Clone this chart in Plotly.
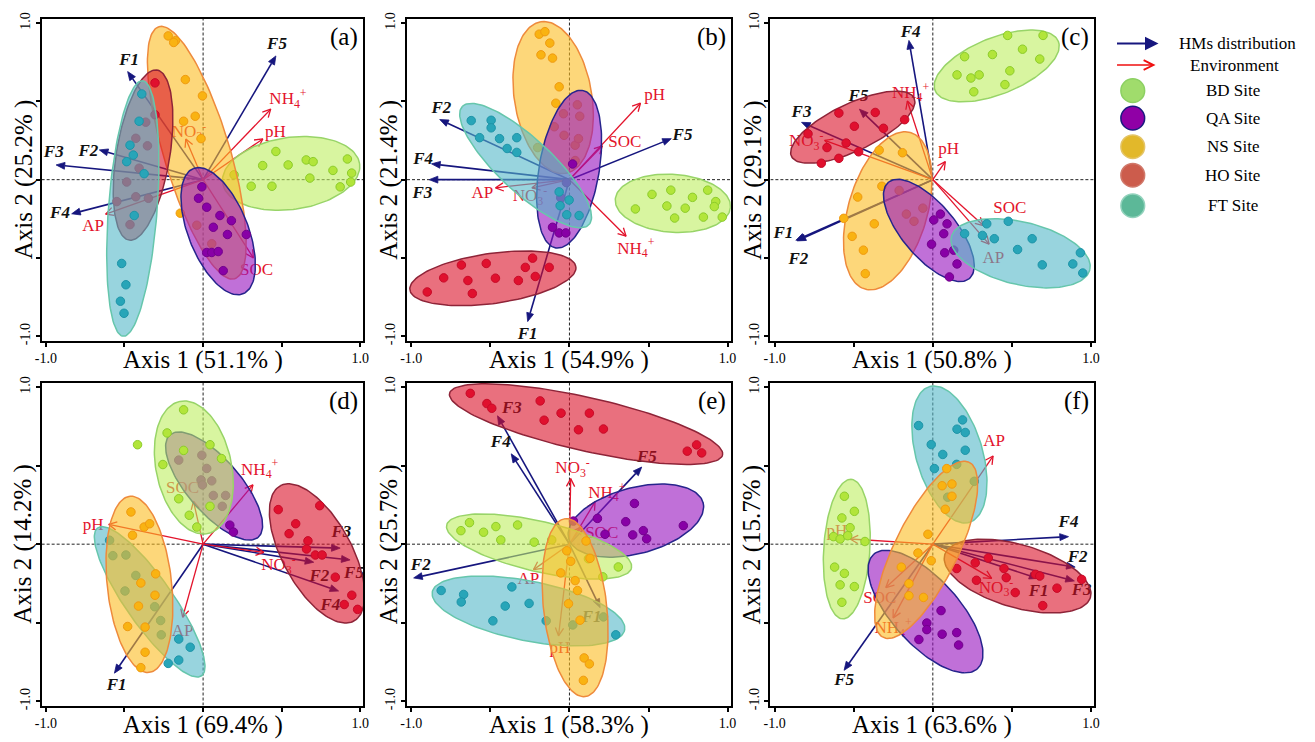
import numpy as np
import plotly.graph_objects as go

W, H = 1315, 742
SERIF = "Times New Roman, Liberation Serif, Tinos, DejaVu Serif, serif"

# ---------------- generic labels ----------------
GROUPS = ["BD", "QA", "NS", "HO", "FT"]
GROUP_LABELS = ["BD Site", "QA Site", "NS Site", "HO Site", "FT Site"]
HM_NAMES = ["F1", "F2", "F3", "F4", "F5"]
ENV_NAMES = ["pH", "SOC", "NH4+", "NO3-", "AP"]
ENV_TEXT = {"pH": "pH", "SOC": "SOC", "NH4+": "NH<sub>4</sub><sup>+</sup>",
            "NO3-": "NO<sub>3</sub><sup>-</sup>", "AP": "AP"}
PANEL_TAGS = ["(a)", "(b)", "(c)", "(d)", "(e)", "(f)"]
AXIS1_PCT = ["51.1", "54.9", "50.8", "69.4", "58.3", "63.6"]
AXIS2_PCT = ["25.2", "21.4", "29.1", "14.2", "25.7", "15.7"]
TICK_VALS = [-1.0, -0.5, 0.0, 0.5, 1.0]
TICK_TEXT = ["-1.0", "", "", "", "1.0"]

# ---------------- panel (a) ----------------
a_hm_x = [-0.48, -0.66, -0.935, -0.836, 0.463]
a_hm_y = [0.69, 0.19, 0.094, -0.218, 0.79]
a_hm_lx = [-0.47, -0.73, -0.95, -0.91, 0.47]
a_hm_ly = [0.76, 0.18, 0.17, -0.22, 0.86]
a_env_x = [0.38, 0.32, 0.43, -0.11, -0.62]
a_env_y = [0.26, -0.50, 0.45, 0.26, -0.22]
a_env_lx = [0.46, 0.34, 0.54, -0.09, -0.70]
a_env_ly = [0.30, -0.58, 0.51, 0.30, -0.30]
a_ell = {"BD": (0.56, 0.04, 0.44, 0.23, 8), "NS": (-0.04, 0.172, 0.84, 0.21, 106.7),
         "HO": (-0.382, 0.157, 0.55, 0.17, 80.7), "FT": (-0.447, -0.184, 0.818, 0.155, 85.7),
         "QA": (0.096, -0.329, 0.43, 0.19, 111.5)}
a_order = ["BD", "NS", "HO", "FT", "QA"]
a_bd_x = [0.463, 0.379, 0.541, 0.656, 0.700, 0.918, 0.826, 0.945, 0.679, 0.939, 0.306, 0.438, 0.872, 0.197]
a_bd_y = [0.180, 0.090, 0.094, 0.126, 0.115, 0.132, 0.059, 0.042, 0.010, -0.015, -0.042, -0.042, -0.046, 0.031]
a_ns_x = [-0.222, -0.176, -0.187, -0.113, -0.004, -0.050, -0.124, -0.013, -0.145, -0.040, 0.055]
a_ns_y = [0.918, 0.887, 0.876, 0.639, 0.535, 0.405, 0.373, 0.262, -0.214, -0.291, -0.409]
a_ho_x = [-0.306, -0.365, -0.306, -0.428, -0.354, -0.407, -0.486, -0.428, -0.348, -0.549, -0.465]
a_ho_y = [0.618, 0.367, 0.415, 0.264, 0.216, 0.073, -0.015, -0.109, -0.119, -0.140, -0.287]
a_ft_x = [-0.390, -0.407, -0.465, -0.444, -0.486, -0.375, -0.438, -0.518, -0.491, -0.526, -0.503]
a_ft_y = [0.547, 0.373, 0.220, 0.157, 0.115, 0.038, -0.229, -0.535, -0.671, -0.776, -0.853]
a_qa_x = [-0.008, -0.029, 0.023, 0.107, 0.180, 0.065, 0.155, 0.275, 0.023, 0.055, 0.096, 0.128]
a_qa_y = [-0.046, -0.119, -0.176, -0.229, -0.262, -0.304, -0.350, -0.350, -0.465, -0.465, -0.459, -0.581]

# ---------------- panel (b) ----------------
b_hm_x = [-0.264, -0.820, -0.887, -0.872, 0.644]
b_hm_y = [-0.906, 0.384, 0.0, 0.101, 0.262]
b_hm_lx = [-0.264, -0.81, -0.93, -0.925, 0.715]
b_hm_ly = [-0.99, 0.45, -0.09, 0.13, 0.283]
b_env_x = [0.449, 0.208, 0.358, -0.237, -0.467]
b_env_y = [0.488, 0.216, -0.361, -0.052, -0.052]
b_env_lx = [0.539, 0.35, 0.42, -0.25, -0.55]
b_env_ly = [0.535, 0.237, -0.445, -0.11, -0.09]
b_ell = {"NS": (-0.103, 0.524, 0.49, 0.245, 99.2), "HO": (-0.484, -0.63, 0.53, 0.16, 8),
         "QA": (-0.002, 0.067, 0.51, 0.19, 80.5), "FT": (-0.277, 0.090, 0.55, 0.17, 136.7),
         "BD": (0.654, -0.151, 0.365, 0.185, -4)}
b_order = ["NS", "QA", "FT", "HO", "BD"]
b_ns_x = [-0.191, -0.155, -0.124, -0.180, -0.107, -0.065, -0.086, -0.038, -0.096, -0.034, 0.036, 0.050, 0.065, 0.057, 0.036, -0.201]
b_ns_y = [0.929, 0.945, 0.872, 0.797, 0.776, 0.593, 0.488, 0.421, 0.338, 0.283, 0.220, 0.478, 0.405, 0.262, 0.122, 0.205]
b_ho_x = [-0.899, -0.795, -0.683, -0.642, -0.614, -0.526, -0.468, -0.323, -0.279, -0.233, -0.216, -0.128]
b_ho_y = [-0.717, -0.627, -0.545, -0.644, -0.727, -0.535, -0.629, -0.644, -0.560, -0.501, -0.618, -0.560]
b_qa_x = [-0.019, -0.055, -0.107, -0.065, -0.023, 0.020]
b_qa_y = [-0.019, -0.115, -0.304, -0.340, -0.340, 0.100]
b_ft_x = [-0.621, -0.495, -0.495, -0.568, -0.442, -0.333, -0.394, -0.333, -0.065, -0.002, -0.059, -0.017, 0.061]
b_ft_y = [0.377, 0.379, 0.331, 0.268, 0.262, 0.268, 0.199, 0.174, -0.078, -0.130, -0.166, -0.224, -0.229]
b_bd_x = [0.522, 0.641, 0.778, 0.874, 0.925, 0.916, 0.417, 0.616, 0.732, 0.665, 0.847, 0.966]
b_bd_y = [-0.094, -0.067, -0.113, -0.067, -0.140, -0.172, -0.187, -0.168, -0.182, -0.245, -0.239, -0.239]

# ---------------- panel (c) ----------------
c_hm_x = [-0.866, -0.858, -0.830, -0.151, -0.464]
c_hm_y = [-0.387, -0.391, 0.366, 0.889, 0.450]
c_hm_lx = [-0.945, -0.85, -0.83, -0.14, -0.47]
c_hm_ly = [-0.345, -0.51, 0.43, 0.94, 0.53]
c_env_x = [0.079, 0.320, -0.161, -0.684, 0.356]
c_env_y = [0.115, -0.293, 0.502, 0.251, -0.412]
c_env_lx = [0.10, 0.487, -0.14, -0.80, 0.383]
c_env_ly = [0.19, -0.188, 0.55, 0.24, -0.502]
c_ell = {"BD": (0.404, 0.726, 0.42, 0.18, 22), "HO": (-0.506, 0.335, 0.43, 0.15, 25.7),
         "NS": (-0.285, -0.199, 0.52, 0.25, 74), "QA": (-0.025, -0.324, 0.40, 0.17, 129.7),
         "FT": (0.555, -0.47, 0.45, 0.20, -13.5)}
c_order = ["BD", "HO", "NS", "QA", "FT"]
c_bd_x = [0.473, 0.697, 0.201, 0.377, 0.567, 0.676, 0.153, 0.241, 0.293, 0.487, 0.456, 0.259]
c_bd_y = [0.921, 0.921, 0.785, 0.799, 0.833, 0.770, 0.669, 0.649, 0.669, 0.695, 0.607, 0.561]
c_ho_x = [-0.594, -0.364, -0.178, -0.496, -0.312, -0.789, -0.669, -0.548, -0.469, -0.594, -0.705]
c_ho_y = [0.425, 0.429, 0.383, 0.341, 0.328, 0.293, 0.205, 0.234, 0.178, 0.136, 0.105]
c_ns_x = [-0.339, -0.192, -0.322, -0.213, -0.475, -0.563, -0.370, -0.119, -0.167, -0.063, -0.510, -0.439, -0.427]
c_ns_y = [0.188, 0.172, -0.042, -0.069, -0.111, -0.247, -0.282, -0.266, -0.220, -0.182, -0.362, -0.450, -0.600]
c_qa_x = [0.048, 0.006, 0.090, 0.069, -0.008, 0.075, 0.132, 0.153, 0.105]
c_qa_y = [-0.220, -0.257, -0.282, -0.345, -0.412, -0.467, -0.450, -0.538, -0.621]
c_ft_x = [0.341, 0.477, 0.201, 0.314, 0.389, 0.628, 0.536, 0.933, 0.692, 0.885, 0.948]
c_ft_y = [-0.282, -0.266, -0.345, -0.356, -0.377, -0.377, -0.446, -0.467, -0.544, -0.538, -0.596]

# ---------------- panel (d) ----------------
d_hm_x = [-0.564, 0.704, 0.872, 0.862, 0.935]
d_hm_y = [-0.821, -0.115, -0.025, -0.298, -0.100]
d_hm_lx = [-0.55, 0.74, 0.88, 0.81, 0.96]
d_hm_ly = [-0.90, -0.21, 0.07, -0.39, -0.19]
d_env_x = [-0.600, -0.061, 0.317, 0.386, -0.130]
d_env_y = [0.126, 0.273, 0.377, -0.052, -0.465]
d_env_lx = [-0.70, -0.13, 0.36, 0.48, -0.13]
d_env_ly = [0.115, 0.35, 0.47, -0.14, -0.56]
d_ell = {"BD": (-0.059, 0.488, 0.43, 0.24, 101.9), "QA": (0.07, 0.37, 0.43, 0.17, 130.7),
         "HO": (0.725, -0.059, 0.49, 0.22, 118.5), "NS": (-0.405, -0.256, 0.564, 0.205, 96.2),
         "FT": (-0.340, -0.367, 0.575, 0.15, 125)}
d_order = ["FT", "NS", "QA", "BD", "HO"]
d_bd_x = [-0.124, -0.417, -0.229, -0.256, -0.155, -0.088, -0.040, 0.044, 0.117, 0.044, -0.124]
d_bd_y = [0.855, 0.633, 0.708, 0.507, 0.289, 0.184, 0.109, 0.633, 0.545, 0.241, 0.597]
d_qa_x = [-0.155, -0.008, 0.023, -0.013, 0.055, -0.004, 0.065, 0.143, 0.122, 0.170, 0.193]
d_qa_y = [0.535, 0.566, 0.482, 0.409, 0.403, 0.377, 0.310, 0.310, 0.241, 0.121, 0.077]
d_ho_x = [0.478, 0.742, 0.589, 0.547, 0.667, 0.658, 0.714, 0.757, 0.841, 0.946, 0.898, 0.983]
d_ho_y = [0.220, 0.245, 0.130, 0.067, 0.021, -0.031, -0.069, -0.069, -0.210, -0.325, -0.384, -0.415]
d_ns_x = [-0.459, -0.375, -0.340, -0.449, -0.396, -0.302, -0.306, -0.411, -0.480, -0.369, -0.369, -0.396]
d_ns_y = [0.205, 0.109, 0.130, 0.057, -0.247, -0.189, -0.325, -0.394, -0.524, -0.528, -0.688, -0.786]
d_ft_x = [-0.595, -0.574, -0.491, -0.428, -0.497, -0.308, -0.270, -0.266, -0.155, -0.082, -0.155, -0.222]
d_ft_y = [0.025, -0.073, -0.069, -0.199, -0.298, -0.398, -0.486, -0.577, -0.604, -0.656, -0.738, -0.759]

# ---------------- panel (e) ----------------
e_hm_x = [0.194, -0.985, -0.455, -0.368, 0.457]
e_hm_y = [-0.404, -0.215, 0.817, 0.575, 0.491]
e_hm_lx = [0.14, -0.94, -0.364, -0.434, 0.49]
e_hm_ly = [-0.47, -0.135, 0.863, 0.644, 0.55]
e_env_x = [-0.069, 0.078, 0.162, 0.008, -0.227]
e_env_y = [-0.583, 0.112, 0.269, 0.417, -0.162]
e_env_lx = [-0.06, 0.204, 0.236, 0.02, -0.26]
e_env_ly = [-0.667, 0.069, 0.322, 0.48, -0.225]
e_ell = {"HO": (0.105, 0.764, 0.885, 0.17, -12.8), "QA": (0.42, 0.15, 0.44, 0.21, 15),
         "BD": (-0.192, -0.015, 0.60, 0.16, -13.2), "FT": (-0.259, -0.425, 0.62, 0.19, -11.3),
         "NS": (0.036, -0.404, 0.57, 0.20, 96.3)}
e_order = ["HO", "QA", "BD", "FT", "NS"]
e_ho_x = [-0.627, -0.522, -0.491, -0.185, -0.160, -0.053, 0.126, 0.057, 0.215, 0.745, 0.804, 0.836]
e_ho_y = [0.960, 0.895, 0.865, 0.912, 0.789, 0.834, 0.834, 0.728, 0.733, 0.592, 0.632, 0.581]
e_qa_x = [0.411, 0.177, 0.356, 0.720, 0.225, 0.400, 0.467, 0.488, 0.025]
e_qa_y = [0.259, 0.164, 0.143, 0.118, 0.063, 0.059, 0.086, 0.034, 0.147]
e_bd_x = [-0.686, -0.632, -0.543, -0.465, -0.328, -0.434, -0.223, -0.112, 0.120, 0.211, 0.309]
e_bd_y = [0.086, 0.137, 0.076, 0.112, 0.122, 0.027, 0.013, 0.027, -0.093, -0.208, -0.145]
e_ft_x = [-0.811, -0.669, -0.684, -0.364, -0.406, -0.255, -0.484, -0.147, 0.021, 0.215, 0.293]
e_ft_y = [-0.295, -0.320, -0.368, -0.272, -0.394, -0.377, -0.488, -0.488, -0.514, -0.463, -0.577]
e_ns_x = [-0.017, 0.008, -0.055, 0.036, 0.051, -0.006, 0.067, 0.093, 0.126, 0.088, 0.105, 0.130]
e_ns_y = [-0.042, -0.109, -0.183, -0.232, -0.295, -0.379, -0.484, -0.724, -0.762, -0.867, 0.020, -0.090]

# ---------------- panel (f) ----------------
f_hm_x = [0.665, 0.900, 0.895, 0.858, -0.561]
f_hm_y = [-0.218, -0.146, -0.234, 0.048, -0.803]
f_hm_lx = [0.669, 0.916, 0.941, 0.858, -0.561]
f_hm_ly = [-0.301, -0.084, -0.297, 0.138, -0.872]
f_env_x = [-0.523, -0.297, -0.251, 0.372, 0.381]
f_env_y = [0.033, -0.276, -0.469, -0.218, 0.561]
f_env_lx = [-0.607, -0.335, -0.251, 0.40, 0.387]
f_env_ly = [0.079, -0.349, -0.538, -0.282, 0.649]
f_ell = {"FT": (0.105, 0.571, 0.45, 0.21, 106.2), "NS": (-0.042, -0.036, 0.62, 0.20, 64),
         "BD": (-0.544, -0.031, 0.445, 0.146, 86.4), "QA": (-0.046, -0.429, 0.49, 0.21, 132),
         "HO": (0.536, -0.203, 0.48, 0.20, -16.4)}
f_order = ["BD", "FT", "QA", "HO", "NS"]
f_ft_x = [-0.090, 0.188, 0.153, 0.205, -0.010, 0.063, 0.205, 0.151, 0.010, 0.262, 0.094]
f_ft_y = [0.755, 0.791, 0.732, 0.711, 0.634, 0.571, 0.598, 0.508, 0.481, 0.400, 0.299]
f_ns_x = [0.088, 0.059, 0.121, 0.121, 0.079, -0.031, -0.094, -0.010, -0.199, -0.151, -0.151, -0.059]
f_ns_y = [0.481, 0.372, 0.383, 0.305, 0.222, 0.063, -0.056, -0.105, -0.146, -0.251, -0.328, -0.339]
f_bd_x = [-0.559, -0.496, -0.575, -0.523, -0.628, -0.586, -0.538, -0.429, -0.621, -0.559, -0.586, -0.496, -0.575]
f_bd_y = [0.305, 0.209, 0.167, 0.105, 0.048, 0.033, 0.054, 0.017, -0.146, -0.186, -0.259, -0.270, -0.370]
f_qa_x = [0.052, -0.038, -0.038, 0.059, 0.151, -0.088, 0.163]
f_qa_y = [-0.423, -0.502, -0.544, -0.573, -0.563, -0.607, -0.642]
f_ho_x = [0.151, 0.268, 0.351, 0.450, 0.464, 0.276, 0.521, 0.649, 0.676, 0.785, 0.941, 0.695]
f_ho_y = [-0.155, -0.119, -0.088, -0.155, -0.213, -0.230, -0.308, -0.192, -0.203, -0.280, -0.224, -0.391]

# ---------------- styles ----------------
NAVY = "#16167e"
RED = "#e3142c"
ELL_FILL = {"BD": "rgba(190,238,97,0.6)", "QA": "rgba(150,17,190,0.6)", "NS": "rgba(252,188,33,0.6)",
            "HO": "rgba(218,17,40,0.6)", "FT": "rgba(83,183,200,0.6)"}
ELL_LINE = {"BD": "#98d468", "QA": "#26248c", "NS": "#ee8a3c", "HO": "#8e2438", "FT": "#66c6ac"}
PT_FILL = {"BD": "#b2e53a", "QA": "#8800a6", "NS": "#f9b312", "HO": "#e0102e", "FT": "#28a5b8"}
PT_LINE = {"BD": "#8ccc2a", "QA": "#72008c", "NS": "#f09a10", "HO": "#c80a28", "FT": "#1e94a8"}
LEG_FILL = {"BD": "#a0dc6c", "QA": "#9000a6", "NS": "#e2b82a", "HO": "#cc5c4c", "FT": "#5cb898"}
LEG_LINE = {"BD": "#8cd062", "QA": "#1a1a80", "NS": "#e4c466", "HO": "#d0786a", "FT": "#92d2bc"}

XDOM = [(35 / W, 360 / W), (404 / W, 731 / W), (771 / W, 1098 / W)]
YDOM = [(1 - 339 / H, 1 - 12 / H), (1 - 710 / H, 1 - 382 / H)]
XR = [-1.027, 1.02]
YR = [-1.027, 1.027]

panels = [
    dict(hm=(a_hm_x, a_hm_y, a_hm_lx, a_hm_ly), env=(a_env_x, a_env_y, a_env_lx, a_env_ly), ell=a_ell, order=a_order,
         pts={"BD": (a_bd_x, a_bd_y), "NS": (a_ns_x, a_ns_y), "HO": (a_ho_x, a_ho_y), "FT": (a_ft_x, a_ft_y), "QA": (a_qa_x, a_qa_y)}),
    dict(hm=(b_hm_x, b_hm_y, b_hm_lx, b_hm_ly), env=(b_env_x, b_env_y, b_env_lx, b_env_ly), ell=b_ell, order=b_order,
         pts={"BD": (b_bd_x, b_bd_y), "NS": (b_ns_x, b_ns_y), "HO": (b_ho_x, b_ho_y), "FT": (b_ft_x, b_ft_y), "QA": (b_qa_x, b_qa_y)}),
    dict(hm=(c_hm_x, c_hm_y, c_hm_lx, c_hm_ly), env=(c_env_x, c_env_y, c_env_lx, c_env_ly), ell=c_ell, order=c_order,
         pts={"BD": (c_bd_x, c_bd_y), "NS": (c_ns_x, c_ns_y), "HO": (c_ho_x, c_ho_y), "FT": (c_ft_x, c_ft_y), "QA": (c_qa_x, c_qa_y)}),
    dict(hm=(d_hm_x, d_hm_y, d_hm_lx, d_hm_ly), env=(d_env_x, d_env_y, d_env_lx, d_env_ly), ell=d_ell, order=d_order,
         pts={"BD": (d_bd_x, d_bd_y), "NS": (d_ns_x, d_ns_y), "HO": (d_ho_x, d_ho_y), "FT": (d_ft_x, d_ft_y), "QA": (d_qa_x, d_qa_y)}),
    dict(hm=(e_hm_x, e_hm_y, e_hm_lx, e_hm_ly), env=(e_env_x, e_env_y, e_env_lx, e_env_ly), ell=e_ell, order=e_order,
         pts={"BD": (e_bd_x, e_bd_y), "NS": (e_ns_x, e_ns_y), "HO": (e_ho_x, e_ho_y), "FT": (e_ft_x, e_ft_y), "QA": (e_qa_x, e_qa_y)}),
    dict(hm=(f_hm_x, f_hm_y, f_hm_lx, f_hm_ly), env=(f_env_x, f_env_y, f_env_lx, f_env_ly), ell=f_ell, order=f_order,
         pts={"BD": (f_bd_x, f_bd_y), "NS": (f_ns_x, f_ns_y), "HO": (f_ho_x, f_ho_y), "FT": (f_ft_x, f_ft_y), "QA": (f_qa_x, f_qa_y)}),
]


def ellipse_xy(cx, cy, a, b, ang):
    t = np.linspace(0, 2 * np.pi, 145)
    th = np.deg2rad(ang)
    x = cx + a * np.cos(t) * np.cos(th) - b * np.sin(t) * np.sin(th)
    y = cy + a * np.cos(t) * np.sin(th) + b * np.sin(t) * np.cos(th)
    return x, y


def arrow_geometry(tx, ty, head_len, head_w):
    tx, ty = float(tx), float(ty)
    L = np.hypot(tx, ty)
    dx, dy = tx / L, ty / L
    nx, ny = -dy, dx
    bx, by = tx - head_len * dx, ty - head_len * dy
    return (bx, by), (bx + head_w * nx, by + head_w * ny), (bx - head_w * nx, by - head_w * ny)


fig = go.Figure()

for i, p in enumerate(panels):
    xa = "x" if i == 0 else f"x{i + 1}"
    ya = "y" if i == 0 else f"y{i + 1}"
    hx, hy, hlx, hly = p["hm"]
    ex, ey, elx, ely = p["env"]

    # HM arrows (navy): shafts and filled heads
    lx, ly, px, py = [], [], [], []
    for tx, ty in zip(hx, hy):
        (bx, by), (l1x, l1y), (l2x, l2y) = arrow_geometry(tx, ty, 0.055, 0.022)
        lx += [0, bx, None]
        ly += [0, by, None]
        px += [tx, l1x, l2x, tx, None]
        py += [ty, l1y, l2y, ty, None]
    fig.add_trace(go.Scatter(x=lx, y=ly, mode="lines", line=dict(color=NAVY, width=1.6),
                             xaxis=xa, yaxis=ya, hoverinfo="skip"))
    fig.add_trace(go.Scatter(x=px, y=py, mode="lines", fill="toself", fillcolor=NAVY,
                             line=dict(color=NAVY, width=0.8), xaxis=xa, yaxis=ya, hoverinfo="skip"))

    # environment arrows (red): shafts with open V heads
    rx, ry = [], []
    for tx, ty in zip(ex, ey):
        _, (l1x, l1y), (l2x, l2y) = arrow_geometry(tx, ty, 0.05, 0.026)
        rx += [0, tx, None, l1x, tx, l2x, None]
        ry += [0, ty, None, l1y, ty, l2y, None]
    fig.add_trace(go.Scatter(x=rx, y=ry, mode="lines", line=dict(color=RED, width=1.3),
                             xaxis=xa, yaxis=ya, hoverinfo="skip"))

    # labels (drawn beneath the ellipses, as in the original)
    fig.add_trace(go.Scatter(x=hlx, y=hly, mode="text", text=[f"<b><i>{n}</i></b>" for n in HM_NAMES],
                             textfont=dict(family=SERIF, size=17, color="#111111"),
                             textposition="middle center", xaxis=xa, yaxis=ya, hoverinfo="skip"))
    fig.add_trace(go.Scatter(x=elx, y=ely, mode="text", text=[ENV_TEXT[n] for n in ENV_NAMES],
                             textfont=dict(family=SERIF, size=17, color=RED),
                             textposition="middle center", xaxis=xa, yaxis=ya, hoverinfo="skip"))

    # ellipses and site points
    for g in p["order"]:
        cx, cy, aa, bb, ang = p["ell"][g]
        ex_, ey_ = ellipse_xy(cx, cy, aa, bb, ang)
        fig.add_trace(go.Scatter(x=ex_, y=ey_, mode="lines", fill="toself", fillcolor=ELL_FILL[g],
                                 line=dict(color=ELL_LINE[g], width=1.5), xaxis=xa, yaxis=ya, hoverinfo="skip"))
        gx, gy = p["pts"][g]
        fig.add_trace(go.Scatter(x=gx, y=gy, mode="markers",
                                 marker=dict(size=8.5, color=PT_FILL[g], line=dict(color=PT_LINE[g], width=1)),
                                 xaxis=xa, yaxis=ya, hoverinfo="skip"))

layout = dict(width=W, height=H, margin=dict(l=0, r=0, t=0, b=0), showlegend=False,
              plot_bgcolor="white", paper_bgcolor="white", font=dict(family=SERIF))
shapes, annotations = [], []
for i in range(6):
    r, c = divmod(i, 3)
    sx = "" if i == 0 else str(i + 1)
    common = dict(showline=True, mirror=True, linecolor="black", linewidth=2, showgrid=False, zeroline=False,
                  ticks="outside", ticklen=4, tickwidth=1.5, tickcolor="black",
                  tickvals=TICK_VALS, ticktext=TICK_TEXT, tickfont=dict(family=SERIF, size=14, color="black"))
    layout[f"xaxis{sx}"] = dict(domain=list(XDOM[c]), range=XR, anchor=f"y{sx}", **common)
    layout[f"yaxis{sx}"] = dict(domain=list(YDOM[r]), range=YR, anchor=f"x{sx}", tickangle=-90, **common)
    xr, yr = f"x{sx}", f"y{sx}"
    shapes.append(dict(type="line", xref=xr, yref=yr, x0=XR[0], x1=XR[1], y0=0, y1=0, layer="below",
                       line=dict(color="#222222", width=1, dash="3px,2px")))
    shapes.append(dict(type="line", xref=xr, yref=yr, x0=0, x1=0, y0=YR[0], y1=YR[1], layer="below",
                       line=dict(color="#222222", width=1, dash="3px,2px")))
    annotations.append(dict(text=PANEL_TAGS[i], xref=f"{xr} domain", yref=f"{yr} domain", x=1, y=1,
                            xanchor="right", yanchor="top", xshift=-3, yshift=-2, showarrow=False,
                            font=dict(family=SERIF, size=25, color="black")))
    annotations.append(dict(text=f"Axis 1 ({AXIS1_PCT[i]}% )", xref=f"{xr} domain", yref=f"{yr} domain",
                            x=0.5, y=0, xanchor="center", yanchor="middle", yshift=-19, showarrow=False,
                            font=dict(family=SERIF, size=25, color="black")))
    annotations.append(dict(text=f"Axis 2 ({AXIS2_PCT[i]}% )", xref=f"{xr} domain", yref=f"{yr} domain",
                            x=0, y=0.5, xanchor="center", yanchor="middle", xshift=-18, textangle=-90,
                            showarrow=False, font=dict(family=SERIF, size=25, color="black")))

# ---------------- custom legend ----------------
def px2x(v):
    return v / W


def px2y(v):
    return 1 - v / H


annotations.append(dict(x=px2x(1163), y=px2y(37), ax=-43, ay=0, xref="paper", yref="paper",
                        showarrow=True, arrowhead=2, arrowsize=1.35,
                        arrowwidth=2, arrowcolor=NAVY, text=""))
annotations.append(dict(x=px2x(1160), y=px2y(59), ax=-40, ay=0, xref="paper", yref="paper",
                        showarrow=True, arrowhead=5, arrowsize=1.2,
                        arrowwidth=1.6, arrowcolor="#f01010", text=""))
annotations.append(dict(text="HMs distribution", x=px2x(1243), y=px2y(37), xref="paper", yref="paper",
                        xanchor="center", yanchor="middle",
                        showarrow=False, font=dict(family=SERIF, size=17, color="black")))
annotations.append(dict(text="Environment", x=px2x(1240), y=px2y(59), xref="paper", yref="paper",
                        xanchor="center", yanchor="middle",
                        showarrow=False, font=dict(family=SERIF, size=17, color="black")))
leg_y = [85, 113, 142, 171, 202]
for g, lab, yy in zip(GROUPS, GROUP_LABELS, leg_y):
    shapes.append(dict(type="circle", xref="paper", yref="paper",
                       x0=px2x(1137 - 12), x1=px2x(1137 + 12), y0=px2y(yy + 12), y1=px2y(yy - 12),
                       fillcolor=LEG_FILL[g], line=dict(color=LEG_LINE[g], width=1.5)))
    annotations.append(dict(text=lab, x=px2x(1238), y=px2y(yy), xref="paper", yref="paper",
                            xanchor="center", yanchor="middle",
                            showarrow=False, font=dict(family=SERIF, size=17, color="black")))

layout["shapes"] = shapes
layout["annotations"] = annotations
fig.update_layout(**layout)

fig.write_html("out.html", config={"displayModeBar": False},
               post_script="document.body.style.margin='0';document.body.style.overflow='hidden';")
